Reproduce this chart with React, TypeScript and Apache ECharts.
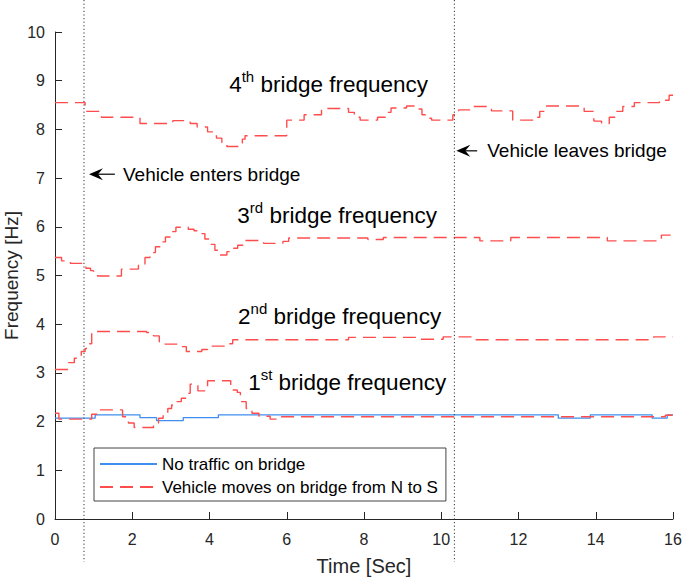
import React, { useEffect, useRef } from 'react';
import * as echarts from 'echarts';

const FONT = 'Liberation Sans, Arial, Helvetica, sans-serif';

// Baseline: no traffic (first natural frequency)
const noTrafficTime = [0, 1.04, 2.2, 2.63, 3.32, 4.23, 13.03, 13.86, 15.46, 15.85, 16];
const noTrafficFreq = [2.07, 2.14, 2.08, 2.02, 2.08, 2.14, 2.07, 2.14, 2.07, 2.14, 2.14];

// Vehicle moving: 1st bridge frequency
const f1Time = [0, 0.1, 0.95, 1.1, 1.75, 1.9, 2.05, 2.55, 2.68, 2.8, 2.92, 3.02, 3.12, 3.27, 3.4, 3.5, 3.7, 3.95, 4.55, 4.72, 4.8, 4.95, 5.1, 5.28, 5.57, 5.85, 15.8, 16];
const f1Freq = [2.17, 2.05, 2.15, 2.24, 2.1, 1.97, 1.88, 1.97, 2.07, 2.17, 2.27, 2.34, 2.41, 2.48, 2.58, 2.77, 2.63, 2.84, 2.65, 2.6, 2.41, 2.27, 2.17, 2.11, 2.05, 2.1, 2.13, 2.13];

// Vehicle moving: 2nd bridge frequency
const f2Time = [0, 0.35, 0.5, 0.68, 0.78, 0.85, 0.95, 2.37, 2.55, 2.7, 2.85, 3.2, 3.4, 3.8, 3.95, 4.4, 4.6, 7.6, 9.45, 10.05, 10.8, 15.5, 16];
const f2Freq = [3.07, 3.21, 3.3, 3.44, 3.5, 3.6, 3.85, 3.83, 3.76, 3.64, 3.59, 3.54, 3.44, 3.48, 3.55, 3.6, 3.68, 3.73, 3.69, 3.74, 3.68, 3.74, 3.74];

// Vehicle moving: 3rd bridge frequency
const f3Time = [0, 0.17, 0.4, 0.8, 0.92, 1.0, 1.1, 1.72, 2.16, 2.33, 2.46, 2.6, 2.73, 2.86, 3.0, 3.13, 3.45, 3.6, 3.72, 3.88, 4.0, 4.14, 4.27, 4.45, 4.6, 4.73, 4.9, 5.4, 5.9, 6.05, 8.1, 8.5, 11.0, 11.8, 14.3, 15.7, 16];
const f3Freq = [5.37, 5.3, 5.25, 5.15, 5.1, 5.04, 4.99, 5.13, 5.21, 5.37, 5.47, 5.59, 5.69, 5.79, 5.9, 5.99, 5.95, 5.92, 5.86, 5.75, 5.64, 5.52, 5.42, 5.49, 5.56, 5.62, 5.72, 5.66, 5.7, 5.77, 5.74, 5.78, 5.71, 5.78, 5.71, 5.83, 5.85];

// Vehicle moving: 4th bridge frequency
const f4Time = [0, 0.78, 1.2, 2.2, 3.05, 3.5, 3.68, 3.95, 4.18, 4.32, 4.45, 4.75, 4.85, 4.92, 6.0, 6.45, 6.9, 7.6, 7.75, 7.9, 8.35, 8.55, 8.7, 9.1, 9.4, 9.5, 9.62, 9.75, 10.3, 10.45, 10.8, 11.3, 11.85, 12.4, 12.55, 12.7, 13.7, 13.95, 14.15, 14.35, 14.5, 14.7, 15.0, 15.65, 15.9, 16];
const f4Freq = [8.55, 8.37, 8.25, 8.12, 8.18, 8.12, 8.05, 7.95, 7.82, 7.73, 7.65, 7.72, 7.8, 7.87, 8.19, 8.3, 8.43, 8.35, 8.25, 8.19, 8.25, 8.35, 8.44, 8.48, 8.42, 8.3, 8.23, 8.19, 8.3, 8.4, 8.47, 8.38, 8.19, 8.25, 8.37, 8.48, 8.37, 8.17, 8.12, 8.25, 8.37, 8.47, 8.55, 8.6, 8.7, 8.7];

// Events and annotations (data coordinates)
const enterTime = 0.75;
const leaveTime = 10.34;
const modeLabels = [
  { n: '4', sup: 'th', x: 4.51, y: 8.92 },
  { n: '3', sup: 'rd', x: 4.72, y: 6.23 },
  { n: '2', sup: 'nd', x: 4.74, y: 4.15 },
  { n: '1', sup: 'st', x: 5.0, y: 2.8 },
];
const eventNotes = [
  { text: 'Vehicle enters bridge', tail: [1.55, 7.08], head: [0.88, 7.08], textX: 1.76 },
  { text: 'Vehicle leaves bridge', tail: [10.93, 7.56], head: [10.39, 7.56], textX: 11.19 },
];

const NT = 'No traffic on bridge';
const VM = 'Vehicle moves on bridge from N to S';
const RED = '#ff4d4d';
const BLUE = '#3f8ef0';
const AX = '#262626';

const pairs = (t: number[], f: number[]) => t.map((x, i) => [x, f[i]]);

export default function App() {
  const ref = useRef<HTMLDivElement>(null);
  useEffect(() => {
    document.body.style.margin = '0';
    const chart = echarts.init(ref.current!, undefined, { renderer: 'svg' });
    const redSeries = (data: number[][]) => ({
      name: VM,
      type: 'line',
      step: 'end',
      data,
      symbol: 'none',
      lineStyle: { color: RED, width: 1.4, type: [13, 7] },
      itemStyle: { color: RED },
      z: 3,
    });
    const option: any = {
      animation: false,
      textStyle: { fontFamily: FONT },
      grid: { left: 55, top: 32, right: 12, bottom: 58, containLabel: false, outerBoundsMode: 'none' },
      legend: {
        orient: 'vertical',
        left: 94,
        top: 448,
        padding: [6, 8, 4, 5],
        itemWidth: 57,
        itemHeight: 14,
        itemGap: 3,
        backgroundColor: '#fff',
        borderColor: '#444',
        borderWidth: 1,
        borderRadius: 0,
        data: [NT, VM],
        itemStyle: { opacity: 0 },
        textStyle: { fontSize: 17, color: '#000', lineHeight: 20, fontFamily: FONT },
        selectedMode: false,
      },
      xAxis: {
        type: 'value',
        min: 0,
        max: 16,
        interval: 2,
        name: 'Time [Sec]',
        nameLocation: 'middle',
        nameGap: 37,
        nameMoveOverlap: false,
        nameTextStyle: { fontSize: 20, color: AX, fontFamily: FONT },
        axisLine: { lineStyle: { color: AX, width: 1 } },
        axisTick: { inside: true, length: 7, lineStyle: { color: AX } },
        axisLabel: { fontSize: 16, color: AX, margin: 12, fontFamily: FONT },
        splitLine: { show: false },
      },
      yAxis: {
        type: 'value',
        min: 0,
        max: 10,
        interval: 1,
        name: 'Frequency [Hz]',
        nameLocation: 'middle',
        nameGap: 34,
        nameMoveOverlap: false,
        nameTextStyle: { fontSize: 19, color: AX, fontFamily: FONT },
        axisLine: { show: true, lineStyle: { color: AX, width: 1 } },
        axisTick: { show: true, inside: true, length: 7, lineStyle: { color: AX } },
        axisLabel: { fontSize: 16, color: AX, margin: 10, fontFamily: FONT },
        splitLine: { show: false },
      },
      series: [
        {
          name: NT,
          type: 'line',
          step: 'end',
          data: pairs(noTrafficTime, noTrafficFreq),
          symbol: 'none',
          lineStyle: { color: BLUE, width: 1.3 },
          itemStyle: { color: BLUE },
          z: 2,
        },
        redSeries(pairs(f1Time, f1Freq)),
        redSeries(pairs(f2Time, f2Freq)),
        redSeries(pairs(f3Time, f3Freq)),
        redSeries(pairs(f4Time, f4Freq)),
      ],
    };
    chart.setOption(option);

    const px = (x: number, y: number) => chart.convertToPixel({ gridIndex: 0 }, [x, y]) as number[];
    const bottom = px(0, 0)[1];
    const graphics: any[] = [];
    [enterTime, leaveTime].forEach((t) => {
      const x = px(t, 0)[0];
      graphics.push({
        type: 'line',
        shape: { x1: x, y1: 0, x2: x, y2: bottom + 43 },
        style: { stroke: '#333', lineWidth: 1, lineDash: [1.2, 2.4] },
        z: 10,
      });
    });
    modeLabels.forEach((m) => {
      const p = px(m.x, m.y);
      graphics.push({
        type: 'text',
        x: p[0],
        y: p[1],
        style: {
          text: `{a|${m.n}}{s|${m.sup}}{a| bridge frequency}`,
          verticalAlign: 'middle',
          align: 'left',
          fill: '#000',
          rich: {
            a: { fontSize: 22.5, lineHeight: 32, fontFamily: FONT, fill: '#000' },
            s: { fontSize: 15, lineHeight: 15, verticalAlign: 'top', fontFamily: FONT, fill: '#000' },
          },
        },
        z: 20,
      });
    });
    eventNotes.forEach((e) => {
      const t = px(e.tail[0], e.tail[1]);
      const h = px(e.head[0], e.head[1]);
      const tx = px(e.textX, e.tail[1]);
      graphics.push({
        type: 'line',
        shape: { x1: t[0], y1: t[1], x2: h[0] + 6, y2: h[1] },
        style: { stroke: '#000', lineWidth: 1.2 },
        z: 20,
      });
      graphics.push({
        type: 'polygon',
        shape: { points: [[h[0], h[1]], [h[0] + 14, h[1] - 6], [h[0] + 9, h[1]], [h[0] + 14, h[1] + 6]] },
        style: { fill: '#000' },
        z: 20,
      });
      graphics.push({
        type: 'text',
        x: tx[0],
        y: tx[1],
        style: { text: e.text, fontSize: 19, fontFamily: FONT, fill: '#000', verticalAlign: 'middle', align: 'left' },
        z: 20,
      });
    });
    chart.setOption({ graphic: graphics });

    return () => chart.dispose();
  }, []);
  return <div ref={ref} style={{ position: 'absolute', left: 0, top: 0, width: 685, height: 577 }} />;
}
